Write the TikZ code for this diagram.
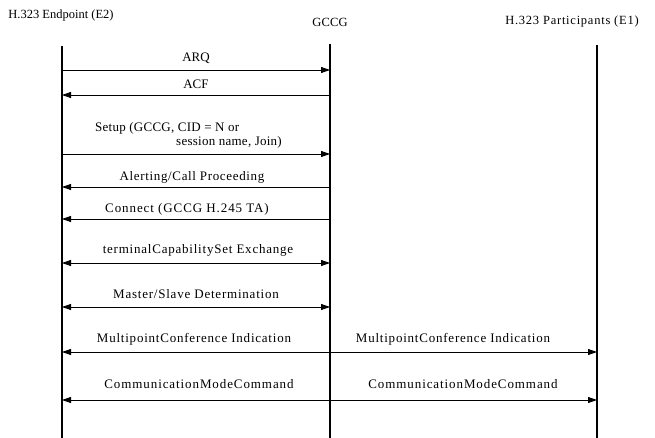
\documentclass[tikz,border=0pt]{standalone}
\usepackage{fontspec}
\setmainfont{Liberation Serif}
\usetikzlibrary{arrows.meta}
\begin{document}
\begin{tikzpicture}[x=1pt,y=-1pt,
  lifeline/.style={line width=1.3pt},
  msg/.style={line width=0.8pt,-{Triangle[length=9pt,width=6pt]}},
  bimsg/.style={line width=0.8pt,{Triangle[length=9pt,width=6pt]}-{Triangle[length=9pt,width=6pt]}},
  lbl/.style={font=\addfontfeature{LetterSpace=#1}\fontsize{13}{15}\selectfont,inner sep=0pt},
  lbl/.default=6,
  hdr/.style={font=\addfontfeature{LetterSpace=#1}\fontsize{12.5}{14}\selectfont,inner sep=0pt},
  hdr/.default=0]
\useasboundingbox (0,0) rectangle (655,438);
% column headings
\node[hdr] (hE2) at (61,15) {H.323 Endpoint (E2)};
\node[hdr=2] (hG) at (330,22) {GCCG};
\node[hdr=6] (hE1) at (572,21) {H.323 Participants (E1)};
% lifelines
\coordinate (e2t) at (62,46);  \coordinate (e2b) at (62,438);
\coordinate (gt) at (330,44);  \coordinate (gb) at (330,438);
\coordinate (e1t) at (597,45); \coordinate (e1b) at (597,438);
\draw[lifeline] (e2t) -- (e2b);
\draw[lifeline] (gt) -- (gb);
\draw[lifeline] (e1t) -- (e1b);
% message end points
\foreach \n/\y in {1/70,2/95,3/154,4/187,5/219,6/263,7/307,8/352,9/400}{
  \coordinate (a\n) at (62,\y);
  \coordinate (b\n) at (330,\y);
  \coordinate (c\n) at (597,\y);
}
\draw[msg] (a1) -- (b1);
\node[lbl=0] (l1) at (196,58) {ARQ};
\draw[msg] (b2) -- (a2);
\node[lbl=0] (l2) at (196,84) {ACF};
\draw[msg] (a3) -- (b3);
\node[lbl=2,anchor=west] (l3a) at (95,128) {Setup (GCCG, CID = N or};
\node[lbl=2,anchor=west] (l3b) at (176,142) {session name, Join)};
\draw[msg] (b4) -- (a4);
\node[lbl=5] (l4) at (192,177) {Alerting/Call Proceeding};
\draw[msg] (b5) -- (a5);
\node[lbl=7] (l5) at (187,209) {Connect (GCCG H.245 TA)};
\draw[bimsg] (a6) -- (b6);
\node[lbl=6] (l6) at (198,250) {terminalCapabilitySet Exchange};
\draw[bimsg] (a7) -- (b7);
\node[lbl=6] (l7) at (196,294) {Master/Slave Determination};
\draw[bimsg] (a8) -- (c8);
\node[lbl=6] (l8a) at (194,339) {MultipointConference Indication};
\node[lbl=6] (l8b) at (453,339) {MultipointConference Indication};
\draw[bimsg] (a9) -- (c9);
\node[lbl=7] (l9a) at (199,384) {CommunicationModeCommand};
\node[lbl=7] (l9b) at (463,384) {CommunicationModeCommand};
\end{tikzpicture}
\end{document}
